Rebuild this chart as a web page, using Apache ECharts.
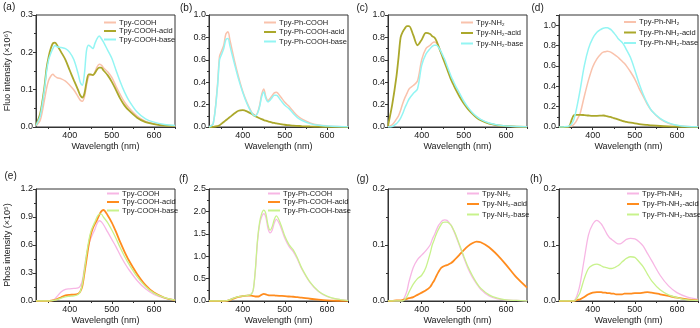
<!DOCTYPE html>
<html><head><meta charset="utf-8">
<script src="https://cdn.jsdelivr.net/npm/echarts@6/dist/echarts.min.js"></script>
<style>html,body{margin:0;padding:0;background:#fff}#c{width:700px;height:328px}</style>
</head><body><div id="c"></div>
<script>
// ---- data (wavelength grid shared by every curve) ----
const W = [320,330,340,345,350,355,360,365,370,380,390,400,410,420,425,430,435,440,445,450,455,460,465,470,475,480,490,500,510,520,530,540,560,580,600,625,650];
const xMajorTicks = [400,500,600];
const xMinorTicks = [350,450,550,650];

// (a) Tpy-COOH fluorescence
const a_pristine = [0.003,0.018,0.072,0.103,0.125,0.136,0.141,0.136,0.132,0.129,0.123,0.112,0.099,0.081,0.072,0.069,0.081,0.112,0.136,0.139,0.139,0.148,0.161,0.168,0.166,0.159,0.148,0.133,0.109,0.087,0.067,0.052,0.029,0.015,0.009,0.005,0.003];
const a_acid = [0.005,0.036,0.107,0.157,0.188,0.21,0.224,0.226,0.219,0.2,0.18,0.152,0.125,0.099,0.085,0.079,0.09,0.121,0.141,0.141,0.139,0.145,0.154,0.159,0.159,0.152,0.139,0.121,0.099,0.076,0.058,0.045,0.025,0.013,0.008,0.004,0.003];
const a_base = [0.004,0.03,0.1,0.148,0.18,0.197,0.21,0.218,0.215,0.213,0.21,0.2,0.18,0.143,0.12,0.112,0.143,0.205,0.219,0.215,0.21,0.224,0.237,0.244,0.237,0.228,0.206,0.184,0.152,0.121,0.094,0.072,0.04,0.022,0.013,0.007,0.004];
// (b) Tpy-Ph-COOH fluorescence
const b_pristine = [0,0.03,0.37,0.63,0.68,0.73,0.83,0.85,0.77,0.6,0.45,0.32,0.22,0.14,0.115,0.103,0.125,0.19,0.29,0.34,0.27,0.235,0.255,0.28,0.305,0.31,0.27,0.22,0.185,0.14,0.1,0.072,0.037,0.018,0.01,0.005,0.002];
const b_acid = [0,0.002,0.008,0.015,0.03,0.045,0.06,0.075,0.09,0.12,0.145,0.15,0.14,0.12,0.108,0.097,0.087,0.078,0.07,0.062,0.056,0.05,0.045,0.04,0.036,0.032,0.026,0.02,0.016,0.012,0.01,0.008,0.005,0.003,0.002,0.001,0];
const b_base = [0,0.03,0.35,0.6,0.65,0.7,0.78,0.79,0.72,0.57,0.43,0.31,0.21,0.134,0.11,0.098,0.12,0.18,0.27,0.313,0.254,0.224,0.24,0.263,0.284,0.284,0.24,0.194,0.164,0.12,0.084,0.06,0.03,0.015,0.009,0.004,0.002];
// (c) Tpy-NH2 fluorescence
const c_pristine = [0.005,0.02,0.07,0.1,0.15,0.21,0.26,0.3,0.34,0.37,0.41,0.6,0.7,0.73,0.75,0.76,0.75,0.72,0.67,0.63,0.58,0.53,0.48,0.43,0.39,0.35,0.28,0.215,0.165,0.125,0.09,0.065,0.033,0.016,0.008,0.003,0.001];
const c_acid = [0.01,0.2,0.45,0.62,0.8,0.85,0.88,0.9,0.9,0.82,0.73,0.78,0.84,0.83,0.81,0.8,0.77,0.72,0.67,0.62,0.57,0.52,0.47,0.42,0.38,0.34,0.27,0.21,0.16,0.12,0.085,0.06,0.03,0.015,0.008,0.003,0.002];
const c_base = [0,0.005,0.03,0.05,0.08,0.12,0.17,0.21,0.25,0.3,0.34,0.55,0.65,0.7,0.72,0.73,0.73,0.71,0.68,0.64,0.6,0.55,0.5,0.45,0.41,0.37,0.3,0.23,0.175,0.13,0.095,0.068,0.035,0.017,0.009,0.004,0.002];
// (d) Tpy-Ph-NH2 fluorescence
const d_pristine = [0,0,0,0.005,0.01,0.025,0.05,0.09,0.13,0.3,0.46,0.59,0.67,0.72,0.735,0.74,0.745,0.74,0.73,0.715,0.7,0.685,0.665,0.645,0.625,0.6,0.54,0.47,0.38,0.3,0.22,0.16,0.08,0.037,0.016,0.005,0.002];
const d_acid = [0,0,0,0.01,0.07,0.115,0.12,0.12,0.12,0.117,0.113,0.11,0.11,0.112,0.113,0.11,0.105,0.1,0.095,0.088,0.082,0.075,0.068,0.06,0.055,0.05,0.042,0.035,0.029,0.024,0.02,0.016,0.01,0.006,0.003,0.001,0];
const d_base = [0,0,0.005,0.01,0.03,0.07,0.15,0.25,0.36,0.6,0.77,0.87,0.93,0.96,0.97,0.975,0.975,0.965,0.95,0.925,0.9,0.87,0.85,0.83,0.8,0.76,0.68,0.56,0.43,0.32,0.23,0.16,0.085,0.04,0.018,0.006,0.002];
// (e) Tpy-COOH phosphorescence
const e_pristine = [0,0,0,0,0,0.003,0.01,0.025,0.05,0.1,0.125,0.13,0.135,0.14,0.16,0.22,0.36,0.5,0.6,0.67,0.72,0.77,0.83,0.86,0.85,0.82,0.74,0.66,0.58,0.49,0.41,0.34,0.22,0.13,0.07,0.03,0.01];
const e_acid = [0,0,0,0,0,0.003,0.007,0.012,0.02,0.04,0.06,0.066,0.068,0.078,0.1,0.16,0.3,0.45,0.6,0.71,0.78,0.83,0.87,0.92,0.96,0.975,0.92,0.84,0.74,0.63,0.53,0.44,0.29,0.17,0.09,0.035,0.008];
const e_base = [0,0,0,0,0,0.002,0.006,0.01,0.015,0.03,0.045,0.05,0.055,0.07,0.1,0.18,0.33,0.5,0.64,0.74,0.8,0.85,0.9,0.93,0.93,0.9,0.84,0.76,0.67,0.57,0.48,0.4,0.26,0.155,0.085,0.035,0.01];
// (f) Tpy-Ph-COOH phosphorescence
const f_pristine = [0,0,0,0,0,0,0.005,0.015,0.03,0.07,0.1,0.11,0.12,0.15,0.24,0.66,1.3,1.7,1.88,1.95,1.87,1.62,1.52,1.58,1.74,1.82,1.66,1.4,1.22,1.1,0.93,0.72,0.41,0.21,0.1,0.04,0.01];
const f_acid = [0,0,0,0,0,0,0.003,0.01,0.025,0.06,0.09,0.11,0.12,0.12,0.11,0.1,0.1,0.11,0.14,0.16,0.15,0.13,0.125,0.125,0.125,0.12,0.115,0.11,0.1,0.095,0.085,0.075,0.05,0.03,0.015,0.006,0.002];
const f_base = [0,0,0,0,0,0,0.005,0.015,0.03,0.07,0.1,0.11,0.12,0.15,0.25,0.7,1.35,1.75,1.95,2.03,1.95,1.7,1.58,1.66,1.82,1.9,1.72,1.45,1.26,1.14,0.96,0.74,0.42,0.22,0.11,0.04,0.01];
// (g) Tpy-NH2 phosphorescence
const g_pristine = [0,0,0,0,0,0.001,0.008,0.018,0.035,0.06,0.074,0.082,0.09,0.1,0.11,0.118,0.127,0.135,0.14,0.144,0.145,0.144,0.14,0.135,0.127,0.118,0.098,0.077,0.058,0.043,0.031,0.021,0.009,0.004,0.002,0.001,0];
const g_acid = [0,0,0.001,0.001,0.001,0.002,0.003,0.004,0.005,0.007,0.011,0.015,0.019,0.025,0.031,0.037,0.045,0.052,0.058,0.061,0.063,0.064,0.066,0.068,0.071,0.075,0.083,0.091,0.098,0.103,0.106,0.105,0.096,0.082,0.065,0.042,0.024];
const g_base = [0,0,0,0,0,0,0.003,0.008,0.016,0.03,0.04,0.046,0.06,0.085,0.1,0.11,0.12,0.128,0.135,0.14,0.141,0.141,0.139,0.135,0.128,0.12,0.1,0.08,0.061,0.046,0.033,0.023,0.011,0.005,0.002,0.001,0];
// (h) Tpy-Ph-NH2 phosphorescence
const h_pristine = [0,0,0,0,0,0,0.005,0.015,0.03,0.075,0.118,0.137,0.144,0.138,0.132,0.125,0.118,0.113,0.11,0.107,0.104,0.102,0.102,0.104,0.107,0.11,0.112,0.111,0.106,0.098,0.085,0.072,0.046,0.027,0.015,0.007,0.003];
const h_acid = [0,0,0,0,0,0,0.001,0.002,0.003,0.007,0.012,0.015,0.016,0.016,0.015,0.015,0.014,0.014,0.013,0.013,0.012,0.012,0.012,0.012,0.013,0.013,0.013,0.014,0.014,0.015,0.016,0.015,0.012,0.009,0.006,0.003,0.001];
const h_base = [0,0,0,0,0,0,0.002,0.008,0.015,0.04,0.058,0.064,0.066,0.063,0.061,0.06,0.059,0.058,0.058,0.059,0.061,0.063,0.066,0.07,0.073,0.076,0.079,0.078,0.07,0.061,0.048,0.036,0.02,0.011,0.006,0.002,0.001];

const namesCOOH = ['Tpy-COOH','Tpy-COOH-acid','Tpy-COOH-base'];
const namesPhCOOH = ['Tpy-Ph-COOH','Tpy-Ph-COOH-acid','Tpy-Ph-COOH-base'];
const namesNH2 = ['Tpy-NH\u2082','Tpy-NH\u2082-acid','Tpy-NH\u2082-base'];
const namesPhNH2 = ['Tpy-Ph-NH\u2082','Tpy-Ph-NH\u2082-acid','Tpy-Ph-NH\u2082-base'];

// ---- styling / layout ----
const FONT = '"Liberation Sans", Arial, sans-serif';
const TXT = '#1a1a1a';
const AX = '#333';
const topColors = ['#F9C2AC','#ABA82B','#93F5F3'];
const botColors = ['#F7B6E4','#FF8C1E','#C8F28C'];
const topWidths = [1.5,1.8,1.5];
const botWidths = [1.3,1.8,1.3];

const panels = [
  {id:'a', names:namesCOOH,   data:[a_pristine,a_acid,a_base], row:0, col:0, ymax:0.3, yint:0.1, leg:[103,18.5], gap:0.5},
  {id:'b', names:namesPhCOOH, data:[b_pristine,b_acid,b_base], row:0, col:1, ymax:1.0, yint:0.2, leg:[263,18.5], gap:1.5},
  {id:'c', names:namesNH2,    data:[c_pristine,c_acid,c_base], row:0, col:2, ymax:1.0, yint:0.2, leg:[460,18.5], gap:2.5},
  {id:'d', names:namesPhNH2,  data:[d_pristine,d_acid,d_base], row:0, col:3, ymax:1.1, yint:0.2, leg:[623,18],   gap:2.5},
  {id:'e', names:namesCOOH,   data:[e_pristine,e_acid,e_base], row:1, col:0, ymax:1.2, yint:0.3, leg:[106,189.5], gap:0.5},
  {id:'f', names:namesPhCOOH, data:[f_pristine,f_acid,f_base], row:1, col:1, ymax:2.5, yint:0.5, leg:[267,189.5], gap:0.5},
  {id:'g', names:namesNH2,    data:[g_pristine,g_acid,g_base], row:1, col:2, ymax:0.2, yint:0.1, leg:[466,189.5], gap:2.5},
  {id:'h', names:namesPhNH2,  data:[h_pristine,h_acid,h_base], row:1, col:3, ymax:0.2, yint:0.1, leg:[626,189.5], gap:2.5}
];
const colLeft = [36,209,388,559];
const rowTop = [15,189];
const gw = 139, gh = 112;
const labelPos = [[3,2.5],[180,3],[356.5,3],[531.5,3],[4.5,171],[179,174],[356.5,174],[530,174]];
const yNames = ['Fluo intensity (\u00d710\u2076)','Phos intensity (\u00d710\u2075)'];

const grid = [], xAxis = [], yAxis = [], series = [], legend = [], graphic = [];
panels.forEach((p, i) => {
  const top = p.row === 0;
  grid.push({left: colLeft[p.col], top: rowTop[p.row], width: gw, height: gh,
    show: true, borderColor: AX, borderWidth: 1, backgroundColor: 'transparent'});
  xAxis.push({type:'value', gridIndex:i, min:320, max:650, position:'bottom',
    name:'Wavelength (nm)', nameLocation:'middle', nameGap:15,
    nameTextStyle:{fontSize:9, color:TXT, fontFamily:FONT},
    axisLine:{show:true, lineStyle:{color:AX, width:1}},
    axisTick:{show:true, inside:false, length:3, customValues:xMajorTicks, lineStyle:{color:AX}},
    axisLabel:{show:true, customValues:xMajorTicks, fontSize:9, color:TXT, fontFamily:FONT, margin:4},
    splitLine:{show:false}});
  xAxis.push({type:'value', gridIndex:i, min:320, max:650, position:'bottom',
    axisLine:{show:false},
    axisTick:{show:true, inside:false, length:2, customValues:xMinorTicks, lineStyle:{color:AX}},
    axisLabel:{show:false}, splitLine:{show:false}});
  const ymax = p.ymax;
  yAxis.push({type:'value', gridIndex:i, min:0, max:ymax, interval:p.yint,
    name: p.col === 0 ? yNames[p.row] : '', nameLocation:'middle', nameGap:24,
    nameTextStyle:{fontSize:9, color:TXT, fontFamily:FONT},
    axisLine:{show:true, lineStyle:{color:AX, width:1}},
    axisTick:{show:true, inside:false, length:3, lineStyle:{color:AX}},
    minorTick:{show:true, splitNumber:2, length:2, lineStyle:{color:AX}},
    axisLabel:{fontSize:9, color:TXT, fontFamily:FONT, margin:3,
      formatter: v => (v > ymax - 1e-9 && Math.abs(v / p.yint - Math.round(v / p.yint)) > 1e-6) ? '' : v.toFixed(1)},
    splitLine:{show:false}});
  const cols = top ? topColors : botColors;
  const wids = top ? topWidths : botWidths;
  const legData = [];
  p.names.forEach((n, k) => {
    const sname = p.id + '|' + n;
    legData.push(sname);
    series.push({type:'line', name:sname, xAxisIndex:2*i, yAxisIndex:i,
      data: W.map((w, j) => [w, p.data[k][j]]),
      symbol:'none', smooth:0.3, clip:true,
      lineStyle:{color:cols[k], width:wids[k]}, itemStyle:{color:cols[k]}});
  });
  legend.push({data:legData, orient:'vertical', left:p.leg[0], top:p.leg[1],
    itemWidth:12, itemHeight:8, itemGap:p.gap, padding:0, selectedMode:false,
    itemStyle:{opacity:0, borderWidth:0},
    lineStyle:{width:2},
    formatter: nm => nm.split('|')[1],
    textStyle:{fontSize:7.5, color:TXT, fontFamily:FONT, padding:[0,0,0,-2]}});
  graphic.push({type:'text', left:labelPos[i][0], top:labelPos[i][1],
    style:{text:'(' + p.id + ')', font:'10px ' + FONT, fill:TXT}});
});

const chart = echarts.init(document.getElementById('c'), null, {renderer:'canvas'});
chart.setOption({animation:false, backgroundColor:'#fff', grid, xAxis, yAxis, series, legend, graphic});
</script></body></html>
